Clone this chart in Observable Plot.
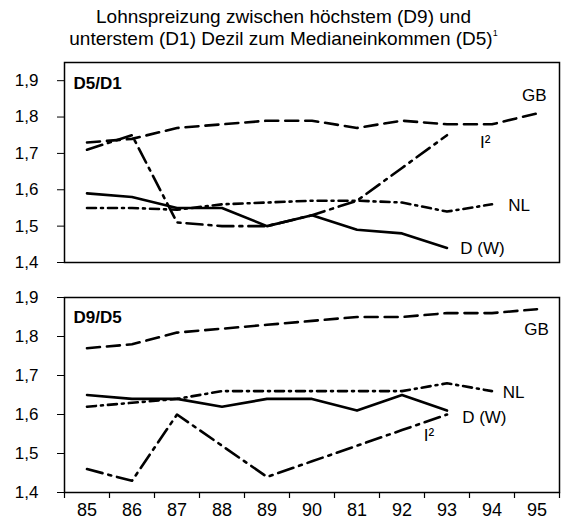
<!DOCTYPE html>
<html>
<head>
<meta charset="utf-8">
<script src="https://cdn.jsdelivr.net/npm/d3@7"></script>
<script src="https://cdn.jsdelivr.net/npm/@observablehq/plot@0.6"></script>
<style>
  body { margin: 0; background: #fff; font-family: "Liberation Sans", Arial, sans-serif; }
  #title { height: 58px; box-sizing: border-box; padding-top: 6px; text-align: center; font-size: 19px; line-height: 22px; color: #000; width: 567px; }
  #title sup { font-size: 9px; line-height: 0; position: relative; top: -2px; vertical-align: super; }
  svg { display: block; }
</style>
</head>
<body>
<div id="title">Lohnspreizung zwischen höchstem (D9) und<br>unterstem (D1) Dezil zum Medianeinkommen (D5)<sup>1</sup></div>
<div id="top"></div>
<div id="bottom"></div>
<script>
// x categories (tick labels as printed)
const tickLabels = ["85","86","87","88","89","90","81","92","93","94","95"];
const yTicks = [1.4, 1.5, 1.6, 1.7, 1.8, 1.9];

// Panel D5/D1
const d5d1_D  = [1.59, 1.58, 1.55, 1.55, 1.50, 1.53, 1.49, 1.48, 1.44];
const d5d1_GB = [1.73, 1.74, 1.77, 1.78, 1.79, 1.79, 1.77, 1.79, 1.78, 1.78, 1.81];
const d5d1_I  = [1.71, 1.75, 1.51, 1.50, 1.50, 1.53, 1.57, 1.66, 1.75];
const d5d1_NL = [1.55, 1.55, 1.545, 1.56, 1.565, 1.57, 1.57, 1.565, 1.54, 1.56];

// Panel D9/D5
const d9d5_D  = [1.65, 1.64, 1.64, 1.62, 1.64, 1.64, 1.61, 1.65, 1.61];
const d9d5_GB = [1.77, 1.78, 1.81, 1.82, 1.83, 1.84, 1.85, 1.85, 1.86, 1.86, 1.87];
const d9d5_I  = [1.46, 1.43, 1.60, 1.52, 1.44, 1.48, 1.52, 1.56, 1.60];
const d9d5_NL = [1.62, 1.63, 1.64, 1.66, 1.66, 1.66, 1.66, 1.66, 1.68, 1.66];

// series labels (x as category index, y as value)
const topLabels = [
  {x: 9.94, y: 1.86, t: "GB"},
  {x: 8.85, y: 1.73, t: "I²"},
  {x: 9.6, y: 1.557, t: "NL"},
  {x: 8.79, y: 1.438, t: "D (W)"}
];
const bottomLabels = [
  {x: 9.99, y: 1.818, t: "GB"},
  {x: 9.48, y: 1.656, t: "NL"},
  {x: 8.83, y: 1.592, t: "D (W)"},
  {x: 7.6, y: 1.546, t: "I²"}
];

const styles = {
  D:  {strokeDasharray: null},
  GB: {strokeDasharray: "13,7"},
  I:  {strokeDasharray: "16,6,3,6"},
  NL: {strokeDasharray: "9,5,2,5"}
};

function toRows(vals) { return vals.map((v, i) => ({i, v})); }

function panel({series, labels, name, nameY, yTop, marginTop, marginBottom, height, xLabels}) {
  const marks = [
    Plot.frame({stroke: "#000", strokeWidth: 1.5}),
    Plot.axisY({ticks: yTicks, tickFormat: d => d.toFixed(1).replace(".", ","), tickSize: 7, tickPadding: 19, fontSize: 17})
  ];
  for (const [key, vals] of series) {
    marks.push(Plot.line(toRows(vals), {x: "i", y: "v", stroke: "#000", strokeWidth: 2.6, strokeDasharray: styles[key].strokeDasharray}));
  }
  marks.push(Plot.text(labels, {x: "x", y: "y", text: "t", fontSize: 17, fill: "#000"}));
  marks.push(Plot.text([{x: -0.3, y: nameY, t: name}], {x: "x", y: "y", text: "t", textAnchor: "start", fontSize: 17, fontWeight: "bold", fill: "#000", style: "letter-spacing:1px"}));
  if (xLabels) {
    marks.push(Plot.axisX({ticks: d3.range(-0.5, 11, 1), tickSize: 6, tickFormat: () => "", strokeWidth: 1.2}));
    marks.push(Plot.axisX({ticks: d3.range(0, 11), tickSize: 0, tickPadding: 11, tickFormat: i => tickLabels[i], fontSize: 18}));
  }
  return Plot.plot({
    width: 567, height,
    marginLeft: 64, marginRight: 8, marginTop, marginBottom,
    x: {domain: [-0.5, 10.5], axis: null},
    y: {domain: [1.4, yTop], axis: null},
    style: {fontFamily: "'Liberation Sans', Arial, sans-serif", fontSize: "17px", color: "#000", background: "#fff"},
    marks
  });
}

document.getElementById("top").append(panel({
  series: [["D", d5d1_D], ["GB", d5d1_GB], ["I", d5d1_I], ["NL", d5d1_NL]],
  labels: topLabels, name: "D5/D1", nameY: 1.892, yTop: 1.95,
  marginTop: 4, marginBottom: 14, height: 218, xLabels: false
}));
document.getElementById("bottom").append(panel({
  series: [["D", d9d5_D], ["GB", d9d5_GB], ["I", d9d5_I], ["NL", d9d5_NL]],
  labels: bottomLabels, name: "D9/D5", nameY: 1.849, yTop: 1.9,
  marginTop: 21, marginBottom: 32, height: 248, xLabels: true
}));
</script>
</body>
</html>
